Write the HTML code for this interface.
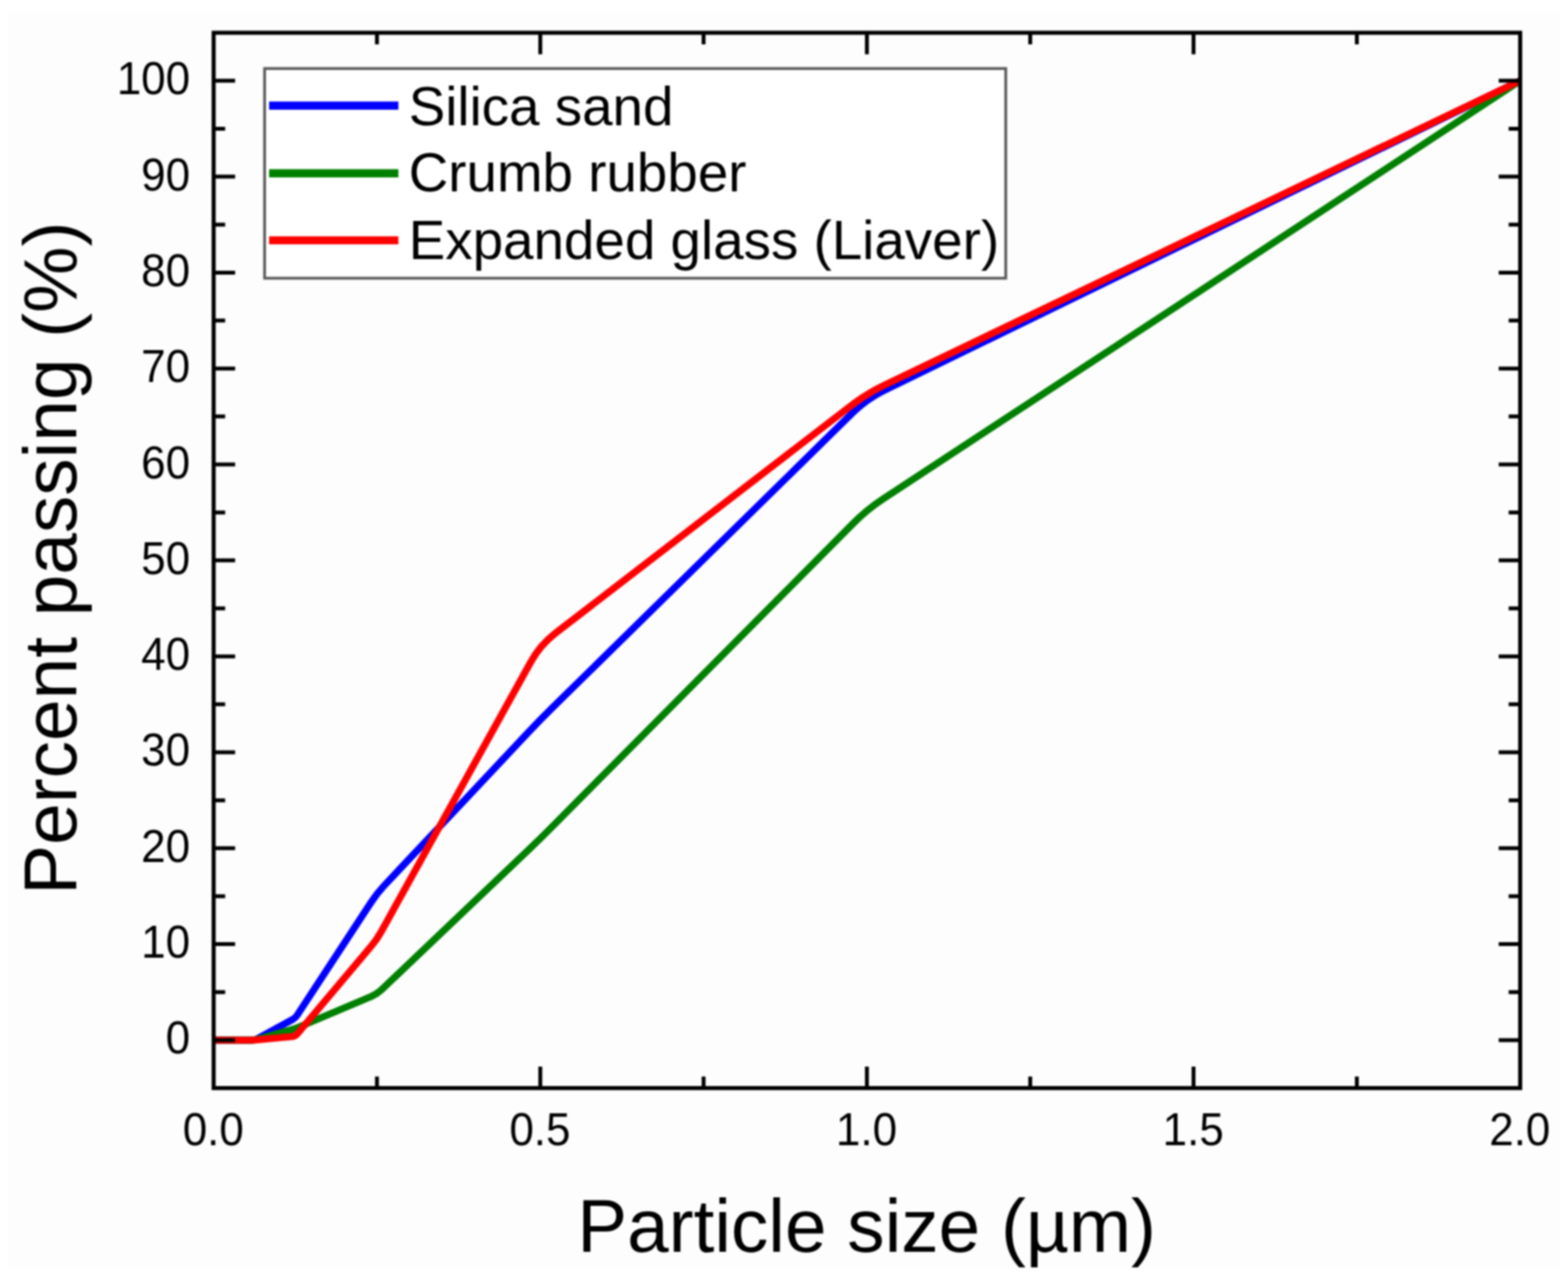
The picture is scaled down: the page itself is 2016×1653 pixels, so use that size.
<!DOCTYPE html>
<html lang="en">
<head>
<meta charset="utf-8">
<title>Particle size distribution</title>
<style>
html,body{margin:0;padding:0;background:#fff;}
body{width:2016px;height:1653px;overflow:hidden;}
svg{display:block;filter:blur(0.8px);}
text{font-family:"Liberation Sans",sans-serif;fill:#000;}
.tk{font-size:56.5px;}
.ti{font-size:96.1px;}
.lg{font-size:70.4px;}
.ax{stroke:#000;stroke-width:5.2;fill:none;}
.t{stroke:#000;stroke-width:5;fill:none;}
.d{fill:none;stroke-width:9;stroke-linejoin:round;stroke-linecap:butt;}
.k{fill:none;stroke-width:10.4;stroke-linecap:butt;}
</style>
</head>
<body>
<svg width="2016" height="1653" viewBox="0 0 2016 1653">
<rect x="0" y="0" width="2016" height="1653" fill="#fff"/>
<rect x="10" y="14" width="1996" height="1617" fill="#fdfdfd"/>
<g class="d">
<path stroke="#0000ff" d="M274.7 1336.94 L323.91 1336.94 Q327.61 1336.94 330.87 1335.17 L376.04 1310.56 Q379.69 1308.58 381.96 1305.11 L477.33 1159.49 Q484.67 1148.26 493.87 1138.49 L679.95 940.68 Q694.65 925.06 709.95 910.03 L1096.76 530.08 Q1114.6 512.56 1137.08 501.62 L1954.5 103.76"/>
<path stroke="#008000" d="M274.7 1336.94 L323.91 1336.94 Q327.61 1336.94 331.18 1335.93 L376.04 1323.18 Q379.69 1322.14 383.18 1320.67 L477.33 1280.86 Q484.67 1277.75 490.46 1272.25 L679.95 1091.96 Q694.65 1077.97 708.94 1063.58 L1096.99 672.73 Q1114.6 654.99 1135.5 641.27 L1954.5 103.76"/>
<path stroke="#ff0000" d="M274.7 1336.94 L323.95 1336.94 Q327.61 1336.94 331.26 1336.6 L376.04 1332.35 Q379.69 1332.01 382.05 1329.21 L477.33 1216.18 Q484.67 1207.46 490.21 1197.49 L682.52 850.73 Q694.65 828.87 714.46 813.63 L1094.79 521.02 Q1114.6 505.78 1137.15 494.98 L1954.5 103.76"/>
</g>
<g class="t">
<path d="M274.7 1336.94h27.6 M1954.5 1336.94h-27.6"/>
<path d="M274.7 1275.28h14.8 M1954.5 1275.28h-14.8"/>
<path d="M274.7 1213.62h27.6 M1954.5 1213.62h-27.6"/>
<path d="M274.7 1151.96h14.8 M1954.5 1151.96h-14.8"/>
<path d="M274.7 1090.3h27.6 M1954.5 1090.3h-27.6"/>
<path d="M274.7 1028.65h14.8 M1954.5 1028.65h-14.8"/>
<path d="M274.7 966.99h27.6 M1954.5 966.99h-27.6"/>
<path d="M274.7 905.33h14.8 M1954.5 905.33h-14.8"/>
<path d="M274.7 843.67h27.6 M1954.5 843.67h-27.6"/>
<path d="M274.7 782.01h14.8 M1954.5 782.01h-14.8"/>
<path d="M274.7 720.35h27.6 M1954.5 720.35h-27.6"/>
<path d="M274.7 658.69h14.8 M1954.5 658.69h-14.8"/>
<path d="M274.7 597.03h27.6 M1954.5 597.03h-27.6"/>
<path d="M274.7 535.37h14.8 M1954.5 535.37h-14.8"/>
<path d="M274.7 473.71h27.6 M1954.5 473.71h-27.6"/>
<path d="M274.7 412.05h14.8 M1954.5 412.05h-14.8"/>
<path d="M274.7 350.4h27.6 M1954.5 350.4h-27.6"/>
<path d="M274.7 288.74h14.8 M1954.5 288.74h-14.8"/>
<path d="M274.7 227.08h27.6 M1954.5 227.08h-27.6"/>
<path d="M274.7 165.42h14.8 M1954.5 165.42h-14.8"/>
<path d="M274.7 103.76h27.6 M1954.5 103.76h-27.6"/>
<path d="M484.67 42.1v14.8 M484.67 1398.6v-14.8"/>
<path d="M694.65 42.1v27.6 M694.65 1398.6v-27.6"/>
<path d="M904.62 42.1v14.8 M904.62 1398.6v-14.8"/>
<path d="M1114.6 42.1v27.6 M1114.6 1398.6v-27.6"/>
<path d="M1324.58 42.1v14.8 M1324.58 1398.6v-14.8"/>
<path d="M1534.55 42.1v27.6 M1534.55 1398.6v-27.6"/>
<path d="M1744.53 42.1v14.8 M1744.53 1398.6v-14.8"/>
</g>
<rect class="ax" x="274.7" y="42.1" width="1679.8" height="1356.5"/>
<g class="tk" text-anchor="end">
<text transform="translate(244.4 1354.44) scale(1 1.04)">0</text>
<text transform="translate(244.4 1231.12) scale(1 1.04)">10</text>
<text transform="translate(244.4 1107.8) scale(1 1.04)">20</text>
<text transform="translate(244.4 984.49) scale(1 1.04)">30</text>
<text transform="translate(244.4 861.17) scale(1 1.04)">40</text>
<text transform="translate(244.4 737.85) scale(1 1.04)">50</text>
<text transform="translate(244.4 614.53) scale(1 1.04)">60</text>
<text transform="translate(244.4 491.21) scale(1 1.04)">70</text>
<text transform="translate(244.4 367.9) scale(1 1.04)">80</text>
<text transform="translate(244.4 244.58) scale(1 1.04)">90</text>
<text transform="translate(244.4 121.26) scale(1 1.04)">100</text>
</g>
<g class="tk" text-anchor="middle">
<text transform="translate(274.2 1471.9) scale(1 1.04)">0.0</text>
<text transform="translate(694.15 1471.9) scale(1 1.04)">0.5</text>
<text transform="translate(1114.1 1471.9) scale(1 1.04)">1.0</text>
<text transform="translate(1534.05 1471.9) scale(1 1.04)">1.5</text>
<text transform="translate(1954 1471.9) scale(1 1.04)">2.0</text>
</g>
<text class="ti" text-anchor="middle" x="1114.3" y="1608.8">Particle size (µm)</text>
<text class="ti" text-anchor="middle" transform="translate(97.8 717.4) rotate(-90)">Percent passing (%)</text>
<rect x="340.2" y="88.1" width="952.9" height="269.5" fill="#fff" stroke="#5a5a5a" stroke-width="3.6"/>
<g class="k">
<path stroke="#0000ff" d="M346 135.8H512.2"/>
<path stroke="#008000" d="M346 222.8H512.2"/>
<path stroke="#ff0000" d="M346 308.9H512.2"/>
</g>
<g class="lg">
<text x="525.5" y="160.8">Silica sand</text>
<text x="525.5" y="246">Crumb rubber</text>
<text x="525.5" y="332.9">Expanded glass (Liaver)</text>
</g>
</svg>
</body>
</html>
